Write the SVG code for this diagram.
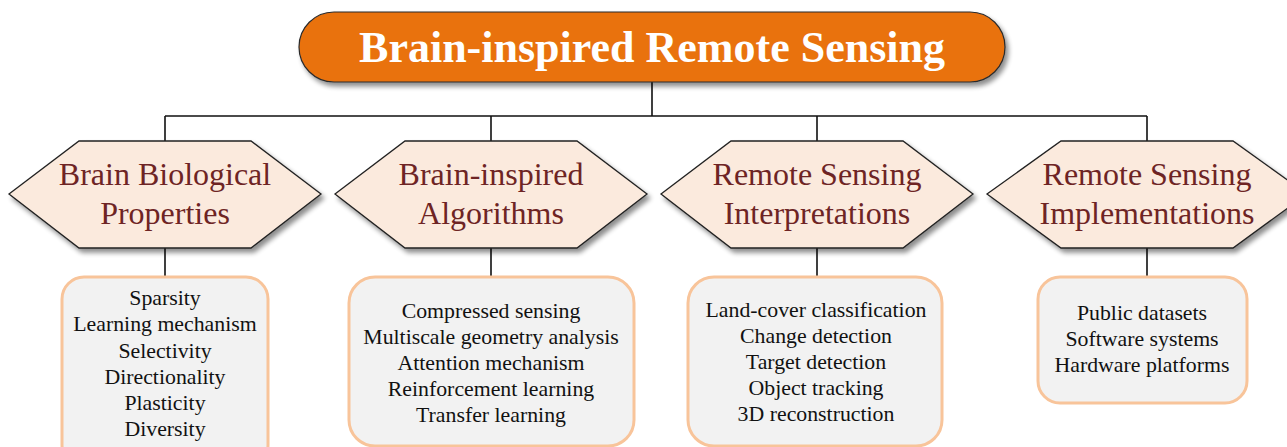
<svg xmlns="http://www.w3.org/2000/svg" width="1287" height="447" viewBox="0 0 1287 447">
  <defs>
    <filter id="shadow" x="-10%" y="-20%" width="125%" height="150%">
      <feGaussianBlur in="SourceAlpha" stdDeviation="2.5"/>
      <feOffset dx="3" dy="4" result="off"/>
      <feComponentTransfer><feFuncA type="linear" slope="0.45"/></feComponentTransfer>
      <feMerge><feMergeNode/><feMergeNode in="SourceGraphic"/></feMerge>
    </filter>
  </defs>
  <style>
    .title-box { fill: #E97211; stroke: #2a2a2a; stroke-width: 1.2; }
    .title-text { font-family: "Liberation Serif", "Times New Roman", serif; font-weight: bold; font-size: 44px; fill: #ffffff; text-anchor: middle; }
    .hex { fill: #FBEADD; stroke: #222222; stroke-width: 1.3; }
    .hex-text { font-family: "Liberation Serif", "Times New Roman", serif; font-size: 32px; fill: #6E2424; text-anchor: middle; }
    .list-box { fill: #F2F2F2; stroke: #F8C49A; stroke-width: 3; }
    .list-text { font-family: "Liberation Serif", "Times New Roman", serif; font-size: 21.8px; fill: #111111; text-anchor: middle; }
    .link { stroke: #111111; stroke-width: 1.6; fill: none; }
  </style>

  <!-- tree connectors -->
  <g id="connectors">
    <path class="link" d="M652 82 V116 M165 116 H1147 M165 116 V141 M491 116 V141 M817 116 V141 M1147 116 V141"/>
    <path class="link" d="M165 248 V277 M491 248 V277 M817 248 V277 M1147 248 V277"/>
  </g>

  <!-- root -->
  <g id="root">
    <rect class="title-box" x="299" y="12" width="706" height="70" rx="35" ry="35" filter="url(#shadow)"/>
    <text class="title-text" x="652" y="62">Brain-inspired Remote Sensing</text>
  </g>

  <!-- category hexagons -->
  <g id="cat-biological">
    <polygon class="hex" filter="url(#shadow)" points="9,194 79,141 251,141 321,194 251,248 79,248"/>
    <text class="hex-text" x="165" y="185">Brain Biological</text>
    <text class="hex-text" x="165" y="224">Properties</text>
  </g>
  <g id="cat-algorithms">
    <polygon class="hex" filter="url(#shadow)" points="335,194 405,141 577,141 647,194 577,248 405,248"/>
    <text class="hex-text" x="491" y="185">Brain-inspired</text>
    <text class="hex-text" x="491" y="224">Algorithms</text>
  </g>
  <g id="cat-interpretations">
    <polygon class="hex" filter="url(#shadow)" points="661,194 731,141 903,141 973,194 903,248 731,248"/>
    <text class="hex-text" x="817" y="185">Remote Sensing</text>
    <text class="hex-text" x="817" y="224">Interpretations</text>
  </g>
  <g id="cat-implementations">
    <polygon class="hex" filter="url(#shadow)" points="987,194 1061,141 1233,141 1307,194 1233,248 1061,248"/>
    <text class="hex-text" x="1147" y="185">Remote Sensing</text>
    <text class="hex-text" x="1147" y="224">Implementations</text>
  </g>

  <!-- item lists -->
  <g id="list-biological">
    <rect class="list-box" x="62" y="277" width="206" height="190" rx="22" ry="22"/>
    <text class="list-text" x="165" y="305">Sparsity</text>
    <text class="list-text" x="165" y="331">Learning mechanism</text>
    <text class="list-text" x="165" y="357.5">Selectivity</text>
    <text class="list-text" x="165" y="383.5">Directionality</text>
    <text class="list-text" x="165" y="410">Plasticity</text>
    <text class="list-text" x="165" y="436">Diversity</text>
  </g>
  <g id="list-algorithms">
    <rect class="list-box" x="349" y="277" width="285" height="169" rx="26" ry="26"/>
    <text class="list-text" x="491" y="318">Compressed sensing</text>
    <text class="list-text" x="491" y="344">Multiscale geometry analysis</text>
    <text class="list-text" x="491" y="370">Attention mechanism</text>
    <text class="list-text" x="491" y="396">Reinforcement learning</text>
    <text class="list-text" x="491" y="422">Transfer learning</text>
  </g>
  <g id="list-interpretations">
    <rect class="list-box" x="688" y="277" width="254" height="169" rx="26" ry="26"/>
    <text class="list-text" x="816" y="317">Land-cover classification</text>
    <text class="list-text" x="816" y="343">Change detection</text>
    <text class="list-text" x="816" y="369">Target detection</text>
    <text class="list-text" x="816" y="395">Object tracking</text>
    <text class="list-text" x="816" y="421">3D reconstruction</text>
  </g>
  <g id="list-implementations">
    <rect class="list-box" x="1038" y="277" width="209" height="126" rx="22" ry="22"/>
    <text class="list-text" x="1142" y="320">Public datasets</text>
    <text class="list-text" x="1142" y="346">Software systems</text>
    <text class="list-text" x="1142" y="372">Hardware platforms</text>
  </g>
</svg>
